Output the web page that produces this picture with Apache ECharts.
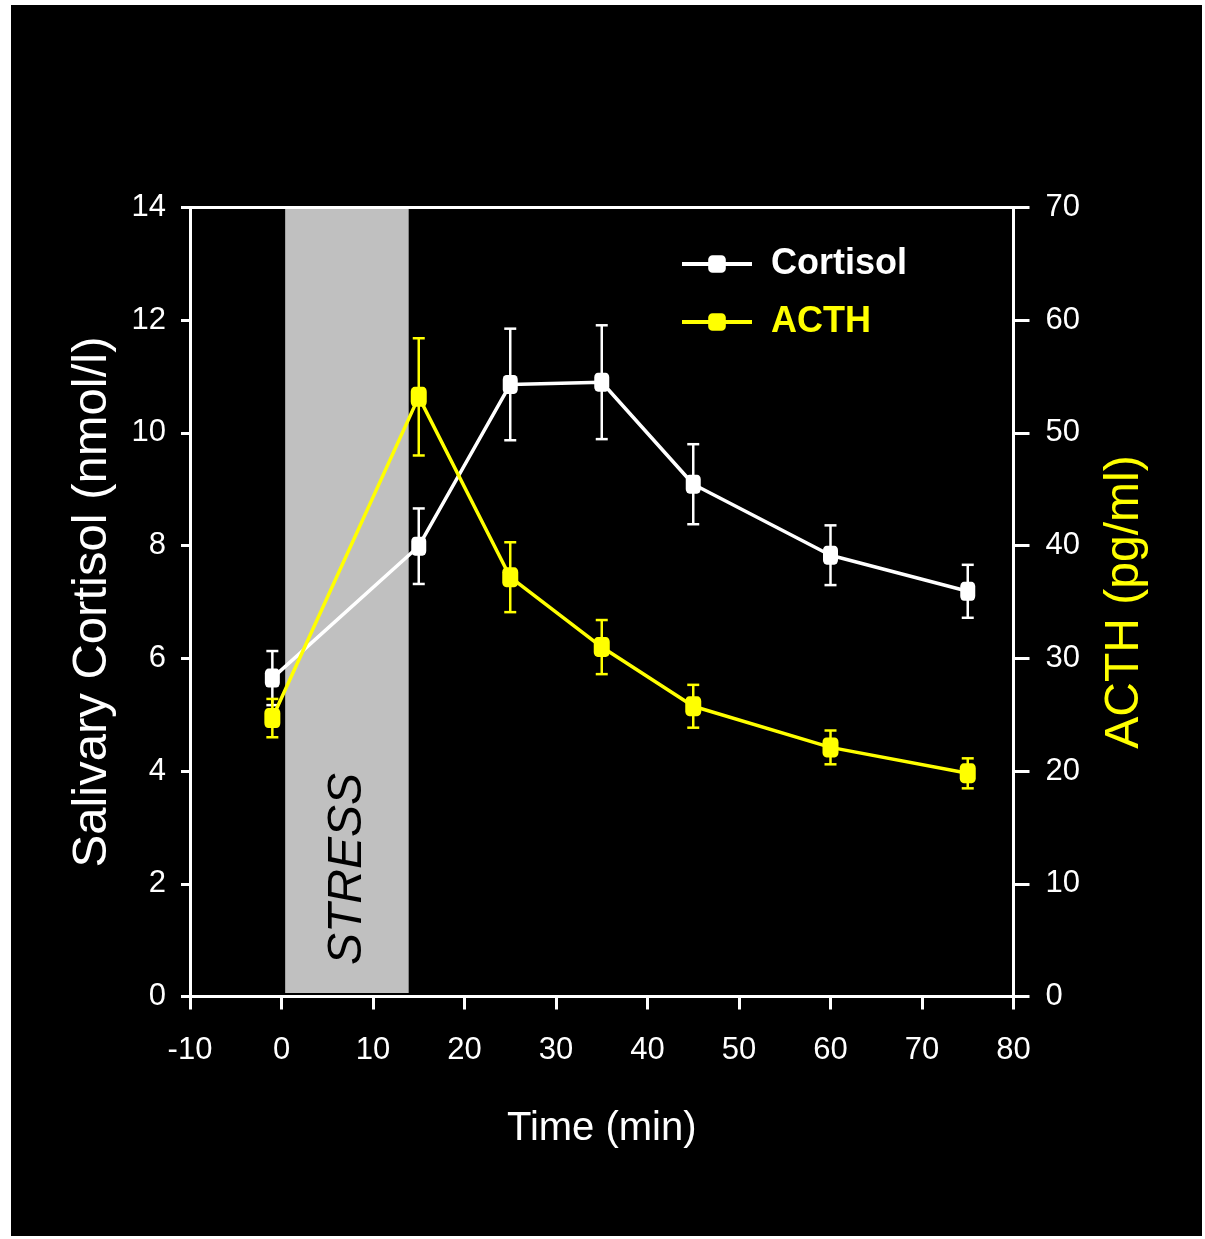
<!DOCTYPE html>
<html lang="en">
<head>
    <meta charset="UTF-8">
    <title>Cortisol / ACTH</title>
    <script src="https://cdn.jsdelivr.net/npm/echarts@6/dist/echarts.min.js"></script>
    <style>
        html, body { margin: 0; padding: 0; background: #fff; }
        #chart { position: absolute; left: 11px; top: 5px; width: 1191px; height: 1231px; background: #000; }
    </style>
</head>
<body>
<div id="chart"></div>
<script>
    // data
    var timeMin = [-1, 15, 25, 35, 45, 60, 75];
    var cortisolMean = [5.65, 7.99, 10.86, 10.90, 9.09, 7.83, 7.19];
    var cortisolSem = [0.48, 0.67, 0.99, 1.01, 0.71, 0.53, 0.47];
    var acthMean = [24.7, 53.2, 37.2, 31.0, 25.75, 22.1, 19.8];
    var acthSem = [1.7, 5.2, 3.1, 2.4, 1.9, 1.5, 1.33];
    var stressWindow = [0.4, 13.9];

    var NARROW = '"Liberation Sans Narrow", "Liberation Sans", Arial, sans-serif';
    var REGULAR = '"Liberation Sans", Arial, sans-serif';
    var YELLOW = '#ffff00';

    function pairs(xs, ys) {
        return xs.map(function (x, i) { return [x, ys[i]]; });
    }
    function errData(xs, m, e) {
        return xs.map(function (x, i) { return [x, m[i] - e[i], m[i] + e[i]]; });
    }
    function errRender(color) {
        return function (params, api) {
            var lo = api.coord([api.value(0), api.value(1)]);
            var hi = api.coord([api.value(0), api.value(2)]);
            var cap = 6;
            var st = { stroke: color, lineWidth: 2.5 };
            return {
                type: 'group',
                children: [
                    { type: 'line', shape: { x1: lo[0], y1: lo[1], x2: hi[0], y2: hi[1] }, style: st },
                    { type: 'line', shape: { x1: lo[0] - cap, y1: lo[1], x2: lo[0] + cap, y2: lo[1] }, style: st },
                    { type: 'line', shape: { x1: hi[0] - cap, y1: hi[1], x2: hi[0] + cap, y2: hi[1] }, style: st }
                ]
            };
        };
    }

    var chart = echarts.init(document.getElementById('chart'));

    var option = {
        backgroundColor: '#000',
        animation: false,
        grid: { left: 179, right: 188.5, top: 202.5, bottom: 239.5 },
        legend: {
            orient: 'vertical',
            left: 669,
            top: 241,
            padding: 0,
            itemWidth: 70,
            itemHeight: 22,
            itemGap: 22,
            lineStyle: { width: 4 },
            textStyle: { fontFamily: NARROW, fontSize: 36, fontWeight: 'bold', padding: [0, 0, 0, 14] },
            data: [
                { name: 'Cortisol', textStyle: { color: '#fff' } },
                { name: 'ACTH', textStyle: { color: YELLOW } }
            ]
        },
        xAxis: [
            {
                type: 'value', min: -10, max: 80, interval: 10, z: 5,
                name: 'Time (min)', nameLocation: 'middle', nameGap: 112,
                nameTextStyle: { color: '#fff', fontFamily: NARROW, fontSize: 40 },
                axisLine: { onZero: false, lineStyle: { color: '#fff', width: 3 } },
                axisTick: { inside: false, length: 13, lineStyle: { color: '#fff', width: 3 } },
                axisLabel: { color: '#fff', fontFamily: NARROW, fontSize: 31, margin: 38 },
                splitLine: { show: false }
            },
            {
                type: 'value', min: -10, max: 80, position: 'top', z: 5,
                axisLine: { onZero: false, lineStyle: { color: '#fff', width: 3 } },
                axisTick: { show: false }, axisLabel: { show: false }, splitLine: { show: false }
            }
        ],
        yAxis: [
            {
                type: 'value', min: 0, max: 14, interval: 2, position: 'left', z: 5,
                name: 'Salivary Cortisol (nmol/l)', nameLocation: 'middle', nameRotate: 90, nameGap: 73,
                nameTextStyle: { color: '#fff', fontFamily: REGULAR, fontSize: 49 },
                axisLine: { show: true, onZero: false, lineStyle: { color: '#fff', width: 3 } },
                axisTick: { show: true, inside: false, length: 9, lineStyle: { color: '#fff', width: 3 } },
                axisLabel: { color: '#fff', fontFamily: NARROW, fontSize: 31, margin: 24 },
                splitLine: { show: false }
            },
            {
                type: 'value', min: 0, max: 70, interval: 10, position: 'right', z: 5,
                name: 'ACTH (pg/ml)', nameLocation: 'middle', nameRotate: 90, nameGap: 87,
                nameTextStyle: { color: YELLOW, fontFamily: REGULAR, fontSize: 48 },
                axisLine: { show: true, onZero: false, lineStyle: { color: '#fff', width: 3 } },
                axisTick: { show: true, inside: false, length: 16, lineStyle: { color: '#fff', width: 3 } },
                axisLabel: { color: '#fff', fontFamily: NARROW, fontSize: 31, margin: 32 },
                splitLine: { show: false }
            }
        ],
        graphic: [
            {
                type: 'text', x: 337, y: 864, rotation: Math.PI / 2, z: 10,
                style: {
                    text: 'STRESS', fill: '#000', align: 'center', verticalAlign: 'middle',
                    font: 'italic 48px ' + REGULAR
                }
            }
        ],
        series: [
            {
                // stress band
                name: 'band', type: 'line', data: [], z: 1, silent: true,
                markArea: {
                    silent: true,
                    itemStyle: { color: '#c0c0c0' },
                    data: [[{ xAxis: stressWindow[0], yAxis: 0.06 }, { xAxis: stressWindow[1], yAxis: 14 }]]
                }
            },
            {
                name: 'cortErr', type: 'custom', yAxisIndex: 0, z: 2,
                renderItem: errRender('#fff'),
                data: errData(timeMin, cortisolMean, cortisolSem)
            },
            {
                name: 'acthErr', type: 'custom', yAxisIndex: 1, z: 2,
                renderItem: errRender(YELLOW),
                data: errData(timeMin, acthMean, acthSem)
            },
            {
                name: 'Cortisol', type: 'line', yAxisIndex: 0, z: 3,
                data: pairs(timeMin, cortisolMean),
                symbol: 'roundRect', symbolSize: [15, 19],
                lineStyle: { color: '#fff', width: 3.5 },
                itemStyle: { color: '#fff' }
            },
            {
                name: 'ACTH', type: 'line', yAxisIndex: 1, z: 4,
                data: pairs(timeMin, acthMean),
                symbol: 'roundRect', symbolSize: [16, 20],
                lineStyle: { color: YELLOW, width: 3.5 },
                itemStyle: { color: YELLOW }
            }
        ]
    };

    chart.setOption(option);
</script>
</body>
</html>
